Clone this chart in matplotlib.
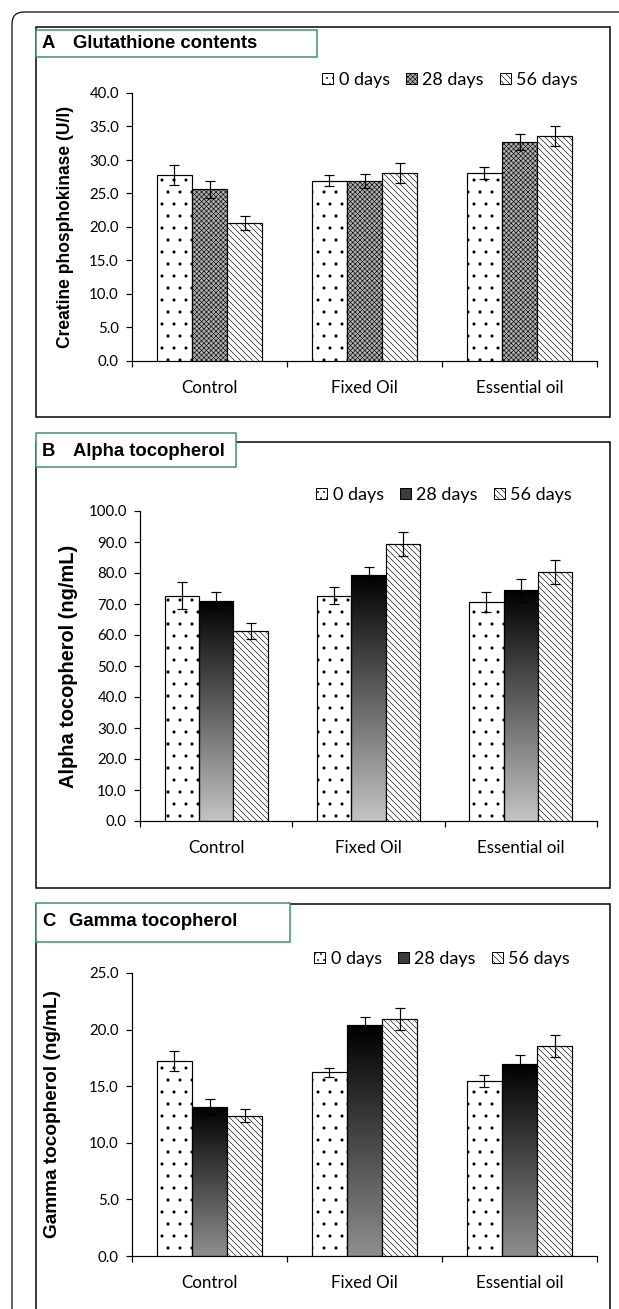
import numpy as np
import matplotlib
matplotlib.use('Agg')
import matplotlib.pyplot as plt
from matplotlib.patches import Rectangle, FancyBboxPatch, Patch
from matplotlib.colors import LinearSegmentedColormap
from matplotlib.transforms import IdentityTransform

plt.rcParams['hatch.linewidth'] = 0.6

groups = ['Control', 'Fixed Oil', 'Essential oil']
days = ['0 days', '28 days', '56 days']

# rows = series (0, 28, 56 days), cols = groups
a_vals = [[27.8, 26.9, 28.0], [25.6, 26.9, 32.7], [20.6, 28.0, 33.6]]
a_err = [[1.5, 0.85, 0.9], [1.25, 1.05, 1.25], [1.1, 1.5, 1.5]]
b_vals = [[72.7, 72.7, 70.6], [71.1, 79.4, 74.5], [61.3, 89.4, 80.2]]
b_err = [[4.3, 2.8, 3.2], [2.7, 2.4, 3.7], [2.7, 3.8, 3.9]]
c_vals = [[17.2, 16.25, 15.45], [13.2, 20.4, 17.0], [12.4, 20.95, 18.55]]
c_err = [[0.9, 0.4, 0.55], [0.65, 0.7, 0.75], [0.6, 0.95, 0.95]]

W, H = 619, 1309
fig = plt.figure(figsize=(W / 72, H / 72), dpi=72)
sans = 'Lato'
bold = 'Liberation Sans'
green = '#3a9468'
diag = '\\\\\\\\'
check_face = '#b0b0b0'


def fx(px):
    return px / W


def fy(py):
    return 1 - py / H


def panel(left, top, bottom, vals, errs, ymax, ystep, grad_bottom):
    ax = fig.add_axes([fx(left), fy(bottom), (597 - left) / W, (bottom - top) / H])
    x = np.arange(len(groups))
    w = 0.226
    hatches = ['.', 'xxxxx', diag]
    faces = ['white', check_face, 'white']
    for i in range(3):
        pos = x + (i - 1) * w
        if i == 1 and grad_bottom is not None:
            bars = ax.bar(pos, vals[i], w, facecolor='none', edgecolor='black',
                          linewidth=1.2, zorder=3)
            cmap = LinearSegmentedColormap.from_list('g', ['black', grad_bottom])
            grad = np.linspace(0, 1, 256).reshape(-1, 1)
            for b in bars:
                im = ax.imshow(grad, cmap=cmap, origin='upper', aspect='auto',
                               extent=[b.get_x(), b.get_x() + b.get_width(), 0, b.get_height()],
                               zorder=2)
                im.set_clip_path(b)
        else:
            ax.bar(pos, vals[i], w, facecolor=faces[i], edgecolor='black',
                   hatch=hatches[i], linewidth=1.2, zorder=3)
        ax.errorbar(pos, vals[i], yerr=errs[i], fmt='none', ecolor='black',
                    elinewidth=1.2, capsize=5, capthick=1.2, zorder=4)
    ax.set_xlim(-0.5, 2.5)
    ax.set_ylim(0, ymax)
    ax.set_yticks(np.arange(0, ymax + ystep / 2, ystep))
    ax.set_yticklabels(['%.1f' % v for v in np.arange(0, ymax + ystep / 2, ystep)],
                       fontsize=15, family=sans)
    ax.set_xticks([-0.5, 0.5, 1.5, 2.5])
    ax.set_xticklabels([])
    ax.set_xticks(x, minor=True)
    ax.set_xticklabels(groups, minor=True, fontsize=17, family=sans)
    ax.tick_params(axis='x', which='major', length=6, width=1.2)
    ax.tick_params(axis='x', which='minor', length=0, pad=19)
    ax.tick_params(axis='y', length=6, width=1.2, pad=7)
    for s in ['top', 'right']:
        ax.spines[s].set_visible(False)
    for s in ['left', 'bottom']:
        ax.spines[s].set_linewidth(1.2)
    ax.set_facecolor('none')
    return ax


def legend(ax, cx, cy, mid_patch):
    handles = [Patch(facecolor='white', edgecolor='black', hatch='..'),
               mid_patch,
               Patch(facecolor='white', edgecolor='black', hatch=diag)]
    ax.legend(handles, days, ncol=3, loc='center', bbox_to_anchor=(fx(cx), fy(cy)),
              bbox_transform=fig.transFigure, frameon=False, handlelength=0.6,
              handleheight=0.6, handletextpad=0.3, columnspacing=0.9,
              prop={'family': sans, 'size': 18})


# outer rounded frame
fig.add_artist(FancyBboxPatch((12, -60), 700, H - 12 + 60,
                              boxstyle='round,pad=0,rounding_size=12',
                              transform=IdentityTransform(), facecolor='none',
                              edgecolor='black', linewidth=1.2))

# panel frames and title boxes
frames = [(27, 417), (442, 888), (904, 1360)]
tboxes = [(30, 57, 317), (433, 467, 236), (903, 942, 290)]
titles = [('A', 'Glutathione contents', 44, 73),
          ('B', 'Alpha tocopherol', 451, 73),
          ('C', 'Gamma tocopherol', 922, 69)]
for (t, b), (gt, gb, gr), (let, txt, ty, tx) in zip(frames, tboxes, titles):
    fig.add_artist(Rectangle((36, H - b), 574, b - t, transform=IdentityTransform(),
                             facecolor='none', edgecolor='black', linewidth=1.5))
    fig.add_artist(Rectangle((36, H - gb), gr - 36, gb - gt, transform=IdentityTransform(),
                             facecolor='white', edgecolor=green, linewidth=1.5, zorder=2))
    fig.text(fx(42), fy(ty), let, fontsize=18.5, fontweight='bold', family=bold,
             va='center', zorder=3)
    fig.text(fx(tx), fy(ty), txt, fontsize=18.5, fontweight='bold', family=bold,
             va='center', zorder=3)

axA = panel(132, 93, 361, a_vals, a_err, 40, 5, None)
legend(axA, 450, 80, Patch(facecolor=check_face, edgecolor='black', hatch='xxxxx'))
fig.text(fx(65), fy(227), 'Creatine phosphokinase (U/l)', rotation=90, ha='center',
         va='center', fontsize=17.5, fontweight='bold', family=bold)

axB = panel(140, 511, 821, b_vals, b_err, 100, 10, '#c4c4c4')
legend(axB, 444, 495, Patch(facecolor='#3c3c3c', edgecolor='black'))
fig.text(fx(69), fy(666), 'Alpha tocopherol (ng/mL)', rotation=90, ha='center',
         va='center', fontsize=20, fontweight='bold', family=bold)

axC = panel(132, 973, 1256, c_vals, c_err, 25, 5, '#8e8e8e')
legend(axC, 442, 959, Patch(facecolor='#3c3c3c', edgecolor='black'))
fig.text(fx(53), fy(1114), 'Gamma tocopherol (ng/mL)', rotation=90, ha='center',
         va='center', fontsize=19, fontweight='bold', family=bold)

fig.savefig('out.png', dpi=72, facecolor='white')
